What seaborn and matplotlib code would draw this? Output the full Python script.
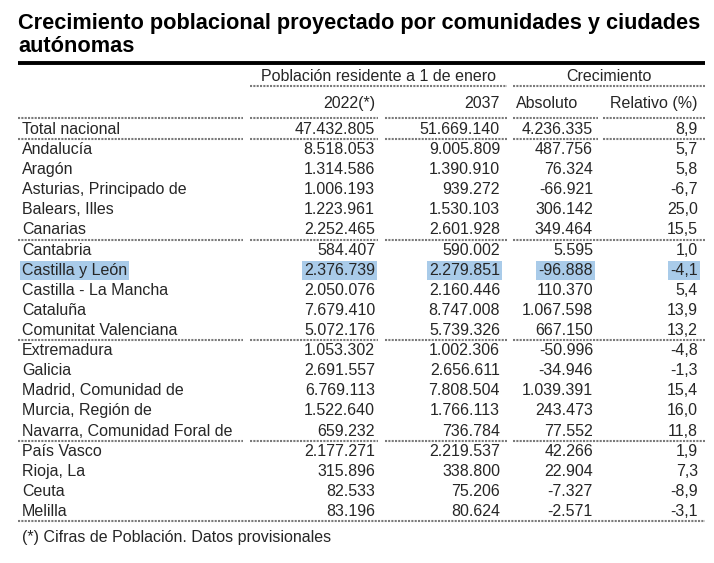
import matplotlib
matplotlib.use("Agg")
import matplotlib.pyplot as plt
import seaborn as sns

sns.set_theme(style="white")
plt.rcParams['font.family'] = ['Liberation Sans', 'DejaVu Sans']

title = "Crecimiento poblacional proyectado por comunidades y ciudades\nautónomas"
group_headers = ["Población residente a 1 de enero", "Crecimiento"]
col_headers = ["2022(*)", "2037", "Absoluto", "Relativo (%)"]
regions = ["Total nacional", "Andalucía", "Aragón", "Asturias, Principado de",
           "Balears, Illes", "Canarias", "Cantabria", "Castilla y León",
           "Castilla - La Mancha", "Cataluña", "Comunitat Valenciana",
           "Extremadura", "Galicia", "Madrid, Comunidad de", "Murcia, Región de",
           "Navarra, Comunidad Foral de", "País Vasco", "Rioja, La", "Ceuta", "Melilla"]
pop_2022 = ["47.432.805", "8.518.053", "1.314.586", "1.006.193", "1.223.961",
            "2.252.465", "584.407", "2.376.739", "2.050.076", "7.679.410",
            "5.072.176", "1.053.302", "2.691.557", "6.769.113", "1.522.640",
            "659.232", "2.177.271", "315.896", "82.533", "83.196"]
pop_2037 = ["51.669.140", "9.005.809", "1.390.910", "939.272", "1.530.103",
            "2.601.928", "590.002", "2.279.851", "2.160.446", "8.747.008",
            "5.739.326", "1.002.306", "2.656.611", "7.808.504", "1.766.113",
            "736.784", "2.219.537", "338.800", "75.206", "80.624"]
growth_abs = ["4.236.335", "487.756", "76.324", "-66.921", "306.142", "349.464",
              "5.595", "-96.888", "110.370", "1.067.598", "667.150", "-50.996",
              "-34.946", "1.039.391", "243.473", "77.552", "42.266", "22.904",
              "-7.327", "-2.571"]
growth_rel = ["8,9", "5,7", "5,8", "-6,7", "25,0", "15,5", "1,0", "-4,1", "5,4",
              "13,9", "13,2", "-4,8", "-1,3", "15,4", "16,0", "11,8", "1,9", "7,3",
              "-8,9", "-3,1"]
footnote = "(*) Cifras de Población. Datos provisionales"
highlight_row = "Castilla y León"
group_breaks = [0, 5, 10, 15]  # separator after these rows

W, H = 714, 563
fig = plt.figure(figsize=(W / 100, H / 100), dpi=100)
ax = fig.add_axes([0, 0, 1, 1])
ax.set_xlim(0, W)
ax.set_ylim(H, 0)
ax.axis("off")

FS = 11.5
hl = "#a9cbe9"
dot = dict(color="#7a7a7a", lw=1.5, linestyle=(0, (1, 0.6)))

# Title
ax.text(18, 29, title.split("\n")[0], fontsize=15.7, fontweight="bold",
        va="baseline", ha="left", color="black")
ax.text(18, 52, title.split("\n")[1], fontsize=15.7, fontweight="bold",
        va="baseline", ha="left", color="black")

# top thick line
ax.plot([18, 705], [63, 63], color="black", lw=2.8, solid_capstyle="butt")

# column geometry
c1 = (18, 243); c2 = (250, 378); c3 = (385, 507); c4 = (513, 598); c5 = (603, 705)
x_name = 22
x_r = [375, 500, 593, 698]

def hline(y, seg):
    ax.plot(list(seg), [y, y], **dot)

# group headers
ax.text((c2[0] + c3[1]) / 2, 81, group_headers[0], fontsize=FS, ha="center", va="baseline")
ax.text((c4[0] + c5[1]) / 2, 81, group_headers[1], fontsize=FS, ha="center", va="baseline")
hline(86, (c2[0], c3[1]))
hline(86, (c4[0], c5[1]))

# column headers
ax.text(x_r[0], 108, col_headers[0], fontsize=FS, ha="right", va="baseline")
ax.text(x_r[1], 108, col_headers[1], fontsize=FS, ha="right", va="baseline")
ax.text(516, 108, col_headers[2], fontsize=FS, ha="left", va="baseline")
ax.text(x_r[3] - 1, 108, col_headers[3], fontsize=FS, ha="right", va="baseline")
for seg in (c1, c2, c3, c4, c5):
    hline(118, seg)

# rows
y0, dy = 129, 20.1
for i, name in enumerate(regions):
    yc = y0 + i * dy
    yb = yc + 5
    vals = [pop_2022[i], pop_2037[i], growth_abs[i], growth_rel[i]]
    box = None
    if name == highlight_row:
        box = dict(boxstyle="square,pad=0.12", fc=hl, ec="none")
    ax.text(x_name, yb, name, fontsize=FS, ha="left", va="baseline", bbox=box)
    for x, v in zip(x_r, vals):
        ax.text(x, yb, v, fontsize=FS, ha="right", va="baseline", bbox=box)
    ysep = yc + 10.3
    if i == 0:
        for seg in (c1, c2, c3, c4, c5):
            hline(ysep, seg)
    elif i in group_breaks:
        for seg in (c1, c2, c3, (c4[0], c5[1])):
            hline(ysep, seg)

# bottom line
ybot = y0 + (len(regions) - 1) * dy + 10.3
hline(ybot, (18, 705))

ax.text(22, 542, footnote, fontsize=FS, ha="left", va="baseline")

fig.savefig("out.png", dpi=100)
